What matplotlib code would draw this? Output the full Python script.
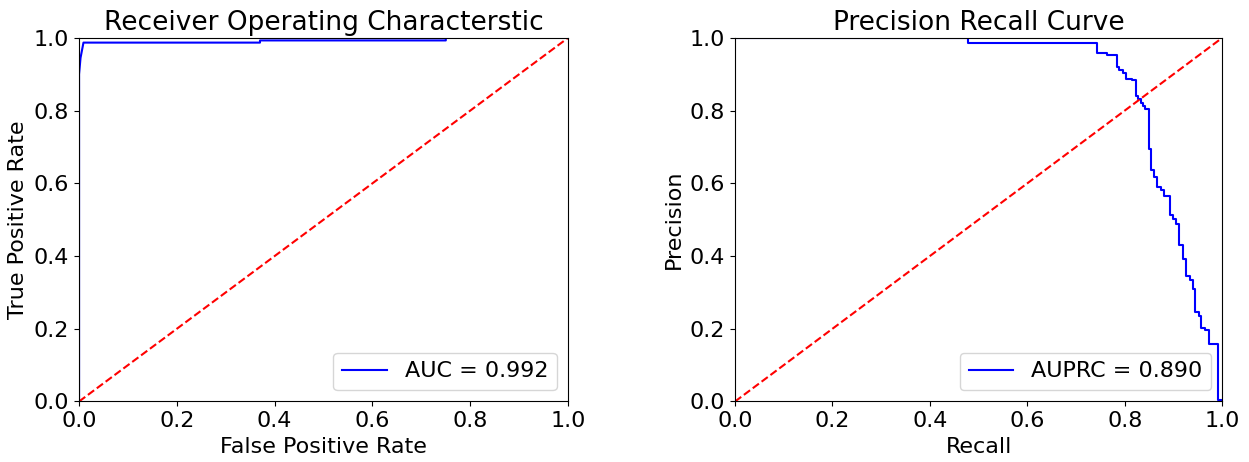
import matplotlib
matplotlib.use("Agg")
import matplotlib.pyplot as plt

# ROC curve
fpr = [0.0, 0.0, 0.003, 0.009, 0.37, 0.37, 0.75, 0.75, 1.0]
tpr = [0.0, 0.90, 0.945, 0.987, 0.987, 0.993, 0.993, 1.0, 1.0]
auc_label = 'AUC = 0.992'

# Precision-recall curve, step starts (steps-post)
recall = [0.0, 0.479, 0.744, 0.763, 0.784, 0.789, 0.796, 0.802, 0.815, 0.823,
          0.828, 0.833, 0.838, 0.842, 0.849, 0.854, 0.860, 0.867, 0.874, 0.880,
          0.893, 0.899, 0.906, 0.912, 0.919, 0.926, 0.933, 0.940, 0.945, 0.952,
          0.957, 0.965, 0.973, 0.991, 1.0]
precision = [1.0, 0.987, 0.959, 0.954, 0.919, 0.912, 0.903, 0.888, 0.883, 0.839,
             0.832, 0.822, 0.813, 0.804, 0.694, 0.638, 0.618, 0.590, 0.581, 0.564,
             0.512, 0.503, 0.487, 0.429, 0.392, 0.346, 0.334, 0.309, 0.245, 0.236,
             0.201, 0.196, 0.159, 0.004, 0.004]
auprc_label = 'AUPRC = 0.890'

plt.rcParams['font.size'] = 16

fig = plt.figure(figsize=(12.49, 4.62), dpi=100)
ax1 = fig.add_axes([0.0633, 0.131, 0.3915, 0.787])
ax2 = fig.add_axes([0.5885, 0.131, 0.390, 0.787])

ax1.plot(fpr, tpr, 'b', label=auc_label)
ax1.plot([0, 1], [0, 1], 'r--')
ax1.set_xlim(0, 1)
ax1.set_ylim(0, 1)
ax1.set_title('Receiver Operating Characterstic', fontsize=19)
ax1.set_xlabel('False Positive Rate')
ax1.set_ylabel('True Positive Rate')
ax1.legend(loc='lower right')

ax2.plot(recall, precision, 'b', drawstyle='steps-post', label=auprc_label)
ax2.plot([0, 1], [0, 1], 'r--')
ax2.set_xlim(0, 1)
ax2.set_ylim(0, 1)
ax2.set_title('Precision Recall Curve', fontsize=19)
ax2.set_xlabel('Recall')
ax2.set_ylabel('Precision')
ax2.legend(loc='lower right')

fig.savefig('out.png', dpi=100)
